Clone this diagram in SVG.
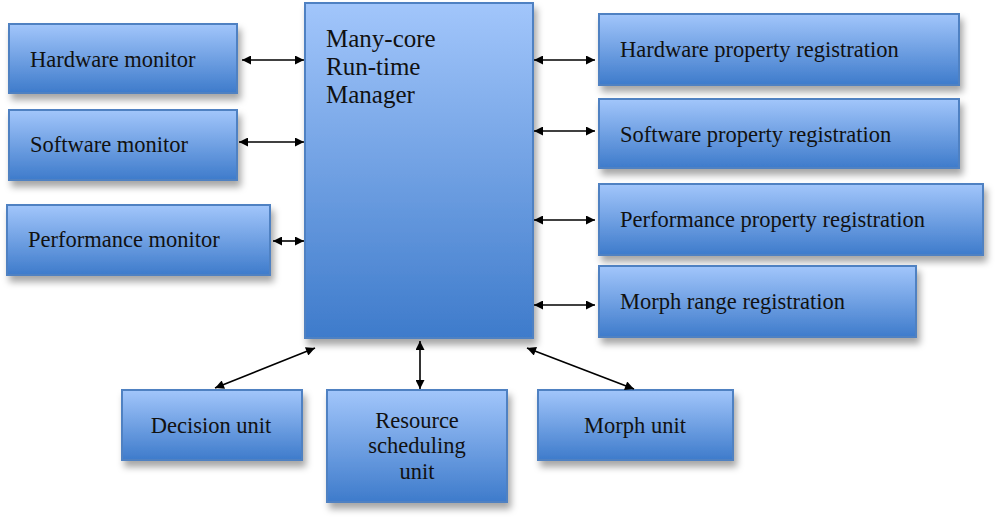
<svg xmlns="http://www.w3.org/2000/svg" width="1000" height="520" viewBox="0 0 1000 520">
<defs>
<linearGradient id="g" x1="0" y1="0" x2="0" y2="1">
<stop offset="0" stop-color="#a2c6fb"/>
<stop offset="1" stop-color="#3e7bcb"/>
</linearGradient>
<filter id="sh" x="-10%" y="-10%" width="130%" height="140%">
<feDropShadow dx="3" dy="6" stdDeviation="3.5" flood-color="#000" flood-opacity="0.35"/>
</filter>
<marker id="ah" viewBox="0 0 10 10" refX="10" refY="5" markerWidth="12" markerHeight="9" markerUnits="userSpaceOnUse" orient="auto-start-reverse">
<path d="M0,0 L10,5 L0,10 z" fill="#000"/>
</marker>
</defs>
<style>
.box{fill:url(#g);stroke:#4f81c2;stroke-width:2;filter:url(#sh)}
.t{font-family:"Liberation Serif","Times New Roman",serif;font-size:22.5px;fill:#111}
.m{font-size:25px}
.c{text-anchor:middle}
.ln{stroke:#000;stroke-width:1.6;fill:none;marker-start:url(#ah);marker-end:url(#ah)}
</style>
<rect width="1000" height="520" fill="#fff"/>
<g id="manager"><rect class="box" x="305" y="3" width="228" height="335"/>
<text class="t m" x="326" y="47">Many-core</text><text class="t m" x="326" y="75">Run-time</text><text class="t m" x="326" y="103">Manager</text></g>
<g id="hw-monitor"><rect class="box" x="9" y="24" width="228" height="69"/><text class="t" x="30" y="67">Hardware monitor</text></g>
<g id="sw-monitor"><rect class="box" x="9" y="110" width="228" height="70"/><text class="t" x="30" y="152">Software monitor</text></g>
<g id="perf-monitor"><rect class="box" x="7" y="205" width="263" height="70"/><text class="t" x="28" y="247">Performance monitor</text></g>
<g id="hw-prop"><rect class="box" x="599" y="14" width="360" height="71"/><text class="t" x="620" y="57">Hardware property registration</text></g>
<g id="sw-prop"><rect class="box" x="599" y="99" width="360" height="69"/><text class="t" x="620" y="142">Software property registration</text></g>
<g id="perf-prop"><rect class="box" x="599" y="184" width="384" height="71"/><text class="t" x="620" y="227">Performance property registration</text></g>
<g id="morph-range"><rect class="box" x="599" y="266" width="317" height="71"/><text class="t" x="620" y="309">Morph range registration</text></g>
<g id="decision"><rect class="box" x="122" y="390" width="180" height="70"/><text class="t c" x="211" y="433">Decision unit</text></g>
<g id="resource"><rect class="box" x="327" y="390" width="180" height="112"/><text class="t c" x="417" y="428">Resource</text><text class="t c" x="417" y="453">scheduling</text><text class="t c" x="417" y="479">unit</text></g>
<g id="morph-unit"><rect class="box" x="538" y="390" width="195" height="70"/><text class="t c" x="635" y="433">Morph unit</text></g>
<g id="connectors">
<line class="ln" x1="242" y1="60" x2="304" y2="60"/>
<line class="ln" x1="239" y1="142" x2="304" y2="142"/>
<line class="ln" x1="273" y1="241" x2="304" y2="241"/>
<line class="ln" x1="534" y1="60" x2="595" y2="60"/>
<line class="ln" x1="534" y1="131" x2="595" y2="131"/>
<line class="ln" x1="534" y1="220" x2="595" y2="220"/>
<line class="ln" x1="534" y1="305" x2="595" y2="305"/>
<line class="ln" x1="215" y1="388" x2="315" y2="348"/>
<line class="ln" x1="420" y1="341" x2="420" y2="389"/>
<line class="ln" x1="527" y1="348" x2="634" y2="389"/>
</g>
</svg>
